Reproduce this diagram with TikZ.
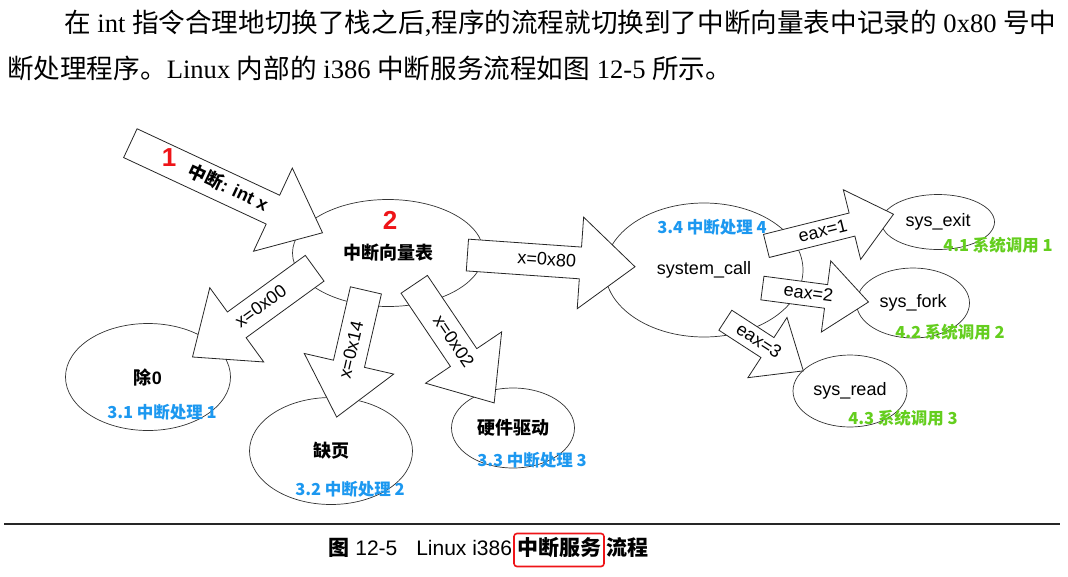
\documentclass[tikz,border=0pt]{standalone}
\usepackage{fontspec}
\setmainfont{Liberation Serif}
\setsansfont{Liberation Sans}
\newfontfamily\cjk{Noto Sans CJK SC}
\usetikzlibrary{shapes.geometric,shapes.arrows,positioning}

\definecolor{markred}{RGB}{238,20,24}
\definecolor{handblue}{RGB}{28,152,240}
\definecolor{callgreen}{RGB}{100,206,30}
\newcommand{\fsz}[1]{\fontsize{#1}{#1}\selectfont}

\tikzset{
  bubble/.style={ellipse, draw=black!80, line width=0.7pt, fill=white, inner sep=0pt, font=\sffamily\fsz{18}},
  fat/.style={single arrow, draw=black!85, fill=white, line width=0.8pt, font=\sffamily\fsz{18},
    text height=13pt, text depth=3pt, inner xsep=2pt, inner ysep=7.5pt,
    single arrow head extend=30pt, single arrow tip angle=80, anchor=tail},
  slim/.style={fat, inner ysep=3.5pt, single arrow head extend=24pt},
  backward/.style={shape border rotate=180},
  tag/.style={font=\cjk\bfseries\fsz{16.5}},
  num/.style={font=\sffamily\bfseries\fsz{26}, text=markred},
  para/.style={anchor=base west, inner sep=0pt, font=\fsz{26.6}},
  capt/.style={font=\sffamily\fsz{21}, inner xsep=3pt, inner ysep=7pt, text height=15pt, text depth=4pt}
}

\begin{document}
\begin{tikzpicture}[x=1pt, y=-1pt]
  \useasboundingbox (0,0) rectangle (1068,576);
  % the two lines of running text above the figure
  \node[para] (line1) at (64,32) {{\cjk 在} int {\cjk 指令合理地切换了栈之后},{\cjk 程序的流程就切换到了中断向量表中记录的} 0x80 {\cjk 号中}};
  \node[para] (line2) at (7,78) {{\cjk 断处理程序。}Linux {\cjk 内部的} i386 {\cjk 中断服务流程如图} 12-5 {\cjk 所示。}};

  % handlers
  \node[bubble, minimum width=191pt, minimum height=107pt] (vec) at (388,253) {\cjk\bfseries 中断向量表};
  \node[bubble, minimum width=165pt, minimum height=107pt] (div0) at (148,377) {\bfseries{\cjk 除}0};
  \node[bubble, minimum width=163pt, minimum height=107pt] (fault) at (331,451) {\cjk\bfseries 缺页};
  \node[bubble, minimum width=123pt, minimum height=80pt] (drv) at (513,428) {\cjk\bfseries 硬件驱动};
  \node[bubble, minimum width=198pt, minimum height=134pt] (syscall) at (704,270) {system\_call};
  \node[bubble, minimum width=113pt, minimum height=55pt] (exit) at (938,222) {sys\_exit};
  \node[bubble, minimum width=113pt, minimum height=70pt] (fork) at (913,303) {sys\_fork};
  \node[bubble, minimum width=114pt, minimum height=72pt] (read) at (850,391) {sys\_read};

  % block arrows, placed by their tails
  \node[fat, rotate=-25, minimum height=212pt] (intx) at (130,143) {\hspace*{22pt}\bfseries{\cjk 中断}: int x};
  \node[fat, rotate=-4, minimum height=168pt] (to80) at (467,255) {\hspace*{10pt}x=0x80};
  \node[fat, backward, rotate=36, minimum height=151pt] (to00) at (315,268) {x=0x00};
  \node[fat, backward, rotate=77, minimum height=130pt] (to14) at (366,290) {x=0x14\hspace*{12pt}};
  \node[fat, rotate=-56, minimum height=143pt] (to02) at (414,284) {\hspace*{14pt}x=0x02};
  \node[slim, rotate=14, minimum height=131pt] (eax1) at (766,246) {eax=1};
  \node[slim, rotate=-7.5, minimum height=107pt] (eax2) at (762,288) {eax=2};
  \node[slim, rotate=-33, minimum height=93pt] (eax3) at (725,320) {eax=3};

  % coloured marks
  \node[num] (n1) at (169,158) {1};
  \node[num] (n2) at (390,220) {2};
  \node[tag, text=handblue] (h1) at (162,412) {3.1 中断处理 1};
  \node[tag, text=handblue] (h2) at (350,489) {3.2 中断处理 2};
  \node[tag, text=handblue] (h3) at (532,460) {3.3 中断处理 3};
  \node[tag, text=handblue] (h4) at (712,227) {3.4 中断处理 4};
  \node[tag, text=callgreen] (c1) at (998,245) {4.1 系统调用 1};
  \node[tag, text=callgreen] (c2) at (950,332) {4.2 系统调用 2};
  \node[tag, text=callgreen] (c3) at (903,418) {4.3 系统调用 3};

  % rule and caption
  \draw[line width=1.6pt, black!85] (4,524) -- (1060,524);
  \node[capt, draw=markred, line width=1.6pt, rounded corners=3pt] (serv) at (559,550) {\cjk\bfseries 中断服务};
  \node[capt, left=0pt of serv, inner xsep=1pt] (capl) {{\cjk\bfseries 图} 12-5\hspace{0.9em}Linux i386};
  \node[capt, right=0pt of serv, inner xsep=1pt] (capr) {\cjk\bfseries 流程};
\end{tikzpicture}
\end{document}
